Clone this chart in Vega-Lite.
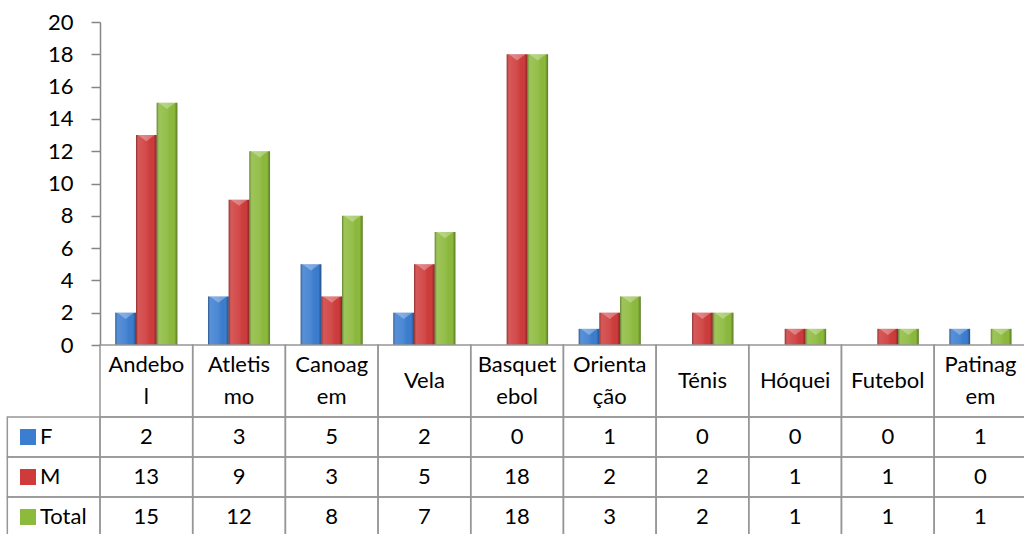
{
  "$schema": "https://vega.github.io/schema/vega-lite/v6.json",
  "width": 924,
  "height": 534,
  "autosize": {"type": "none"},
  "padding": {"left": 100, "top": 0, "right": 0, "bottom": 0},
  "background": "white",
  "config": {"font": "Lato", "view": {"stroke": null}, "text": {"font": "Lato"}},
  "datasets": {
    "long": [
      {"cat": "Andebol", "series": "F", "value": 2},
      {"cat": "Andebol", "series": "M", "value": 13},
      {"cat": "Andebol", "series": "Total", "value": 15},
      {"cat": "Atletismo", "series": "F", "value": 3},
      {"cat": "Atletismo", "series": "M", "value": 9},
      {"cat": "Atletismo", "series": "Total", "value": 12},
      {"cat": "Canoagem", "series": "F", "value": 5},
      {"cat": "Canoagem", "series": "M", "value": 3},
      {"cat": "Canoagem", "series": "Total", "value": 8},
      {"cat": "Vela", "series": "F", "value": 2},
      {"cat": "Vela", "series": "M", "value": 5},
      {"cat": "Vela", "series": "Total", "value": 7},
      {"cat": "Basquetebol", "series": "F", "value": 0},
      {"cat": "Basquetebol", "series": "M", "value": 18},
      {"cat": "Basquetebol", "series": "Total", "value": 18},
      {"cat": "Orientação", "series": "F", "value": 1},
      {"cat": "Orientação", "series": "M", "value": 2},
      {"cat": "Orientação", "series": "Total", "value": 3},
      {"cat": "Ténis", "series": "F", "value": 0},
      {"cat": "Ténis", "series": "M", "value": 2},
      {"cat": "Ténis", "series": "Total", "value": 2},
      {"cat": "Hóquei", "series": "F", "value": 0},
      {"cat": "Hóquei", "series": "M", "value": 1},
      {"cat": "Hóquei", "series": "Total", "value": 1},
      {"cat": "Futebol", "series": "F", "value": 0},
      {"cat": "Futebol", "series": "M", "value": 1},
      {"cat": "Futebol", "series": "Total", "value": 1},
      {"cat": "Patinagem", "series": "F", "value": 1},
      {"cat": "Patinagem", "series": "M", "value": 0},
      {"cat": "Patinagem", "series": "Total", "value": 1}
    ],
    "cats": [
      {"cat": "Andebol", "label": "Andebo\nl"},
      {"cat": "Atletismo", "label": "Atletis\nmo"},
      {"cat": "Canoagem", "label": "Canoag\nem"},
      {"cat": "Vela", "label": "Vela"},
      {"cat": "Basquetebol", "label": "Basquet\nebol"},
      {"cat": "Orientação", "label": "Orienta\nção"},
      {"cat": "Ténis", "label": "Ténis"},
      {"cat": "Hóquei", "label": "Hóquei"},
      {"cat": "Futebol", "label": "Futebol"},
      {"cat": "Patinagem", "label": "Patinag\nem"}
    ],
    "hdr": [
      {"cat": "", "series": "F"},
      {"cat": "", "series": "M"},
      {"cat": "", "series": "Total"}
    ]
  },
  "layer": [
    {
      "data": {"name": "long"},
      "encoding": {
        "x": {"field": "cat", "type": "nominal", "sort": null, "axis": null,
          "scale": {"domain": ["", "Andebol", "Atletismo", "Canoagem", "Vela", "Basquetebol", "Orientação", "Ténis", "Hóquei", "Futebol", "Patinagem"], "range": [-92.68, 926.8], "paddingInner": 0, "paddingOuter": 0}},
        "xOffset": {"field": "series", "type": "nominal", "scale": {"domain": ["F", "M", "Total"], "paddingInner": 0, "paddingOuter": 0.74}},
        "y": {"field": "value", "type": "quantitative",
          "scale": {"domain": [0, 20], "range": [345, 22], "nice": false, "zero": true},
          "axis": {"values": [0, 2, 4, 6, 8, 10, 12, 14, 16, 18, 20], "title": null, "grid": false,
            "domainColor": "#868686", "domainWidth": 1.5, "tickColor": "#868686", "tickWidth": 1.5, "tickSize": 9,
            "labelPadding": 18, "labelFontSize": 22, "labelColor": "black", "labelFont": "Lato"}}
      },
      "layer": [
        {
          "mark": {"type": "bar"},
          "encoding": {
            "color": {"field": "series", "type": "nominal",
              "scale": {"domain": ["F", "M", "Total"], "range": ["#3b7dd0", "#cf3b3b", "#8cba3c"]},
              "legend": {"orient": "none", "legendX": -83, "legendY": 417, "title": null, "direction": "vertical",
                "symbolType": "square", "symbolSize": 256, "symbolStrokeWidth": 0,
                "labelFontSize": 22, "labelFont": "Lato", "labelColor": "black", "labelOffset": 1,
                "clipHeight": 40, "rowPadding": 0, "padding": 0}}
          }
        },
        {
          "mark": {"type": "bar",
            "fill": {"gradient": "linear", "x1": 0, "x2": 1, "y1": 0, "y2": 0,
              "stops": [
                {"offset": 0, "color": "rgba(0,0,0,0.35)"},
                {"offset": 0.12, "color": "rgba(255,255,255,0.15)"},
                {"offset": 0.5, "color": "rgba(255,255,255,0.08)"},
                {"offset": 0.85, "color": "rgba(0,0,0,0)"},
                {"offset": 1, "color": "rgba(0,0,0,0.35)"}
              ]}}
        },
        {
          "transform": [{"filter": "datum.value > 0"}],
          "mark": {"type": "point", "filled": true, "shape": "M -0.8 0 L 0.8 0 L 0 0.6 Z", "size": 428, "fill": "white", "opacity": 0.3, "strokeWidth": 0}
        }
      ]
    },
    {
      "data": {"name": "cats"},
      "encoding": {
        "x": {"field": "cat", "type": "nominal", "sort": null, "axis": null,
          "scale": {"domain": ["", "Andebol", "Atletismo", "Canoagem", "Vela", "Basquetebol", "Orientação", "Ténis", "Hóquei", "Futebol", "Patinagem"], "range": [-92.68, 926.8], "paddingInner": 0, "paddingOuter": 0}},
        "y": {"datum": "h", "type": "nominal", "axis": null,
          "scale": {"domain": ["h"], "range": [345, 417], "paddingInner": 0, "paddingOuter": 0}}
      },
      "layer": [
        {"mark": {"type": "rect", "fill": "white", "fillOpacity": 0, "stroke": "#969696", "strokeWidth": 1.5}},
        {"transform": [{"filter": "indexof(datum.label, '\\n') >= 0"}],
         "mark": {"type": "text", "fontSize": 22, "lineBreak": "\n", "lineHeight": 32, "align": "center", "baseline": "middle", "color": "black", "dy": -16},
         "encoding": {"text": {"field": "label"}}},
        {"transform": [{"filter": "indexof(datum.label, '\\n') < 0"}],
         "mark": {"type": "text", "fontSize": 22, "align": "center", "baseline": "middle", "color": "black"},
         "encoding": {"text": {"field": "label"}}}
      ]
    },
    {
      "encoding": {
        "x": {"field": "cat", "type": "nominal", "sort": null, "axis": null,
          "scale": {"domain": ["", "Andebol", "Atletismo", "Canoagem", "Vela", "Basquetebol", "Orientação", "Ténis", "Hóquei", "Futebol", "Patinagem"], "range": [-92.68, 926.8], "paddingInner": 0, "paddingOuter": 0}},
        "y": {"field": "series", "type": "nominal", "axis": null,
          "scale": {"domain": ["F", "M", "Total"], "range": [417, 537], "paddingInner": 0, "paddingOuter": 0}}
      },
      "layer": [
        {"data": {"name": "long"}, "mark": {"type": "rect", "fill": "white", "fillOpacity": 0, "stroke": "#969696", "strokeWidth": 1.5}},
        {"data": {"name": "hdr"}, "mark": {"type": "rect", "fill": "white", "fillOpacity": 0, "stroke": "#969696", "strokeWidth": 1.5}},
        {"data": {"name": "long"}, "mark": {"type": "text", "fontSize": 22, "align": "center", "baseline": "middle", "color": "black"},
         "encoding": {"text": {"field": "value", "type": "quantitative"}}}
      ]
    }
  ],
  "resolve": {"scale": {"y": "independent"}}
}
